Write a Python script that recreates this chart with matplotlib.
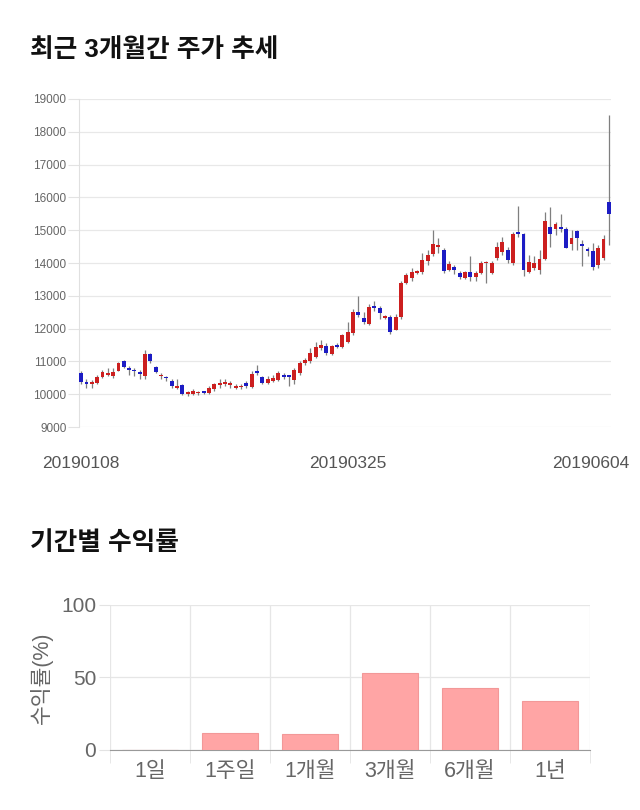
import matplotlib
matplotlib.use('Agg')
import matplotlib.pyplot as plt
import numpy as np
from matplotlib.transforms import ScaledTranslation

plt.rcParams['font.family'] = ['Liberation Sans', 'Noto Sans CJK KR']

# daily candles 2019-01-08 .. 2019-06-04 (open, high, low, close)
opens = [10650, 10370, 10300, 10340, 10520, 10580, 10550, 10720, 11000, 10800,
         10720, 10650, 10550, 11220, 10830, 10550, 10500, 10400, 10200, 10280,
         10020, 10000, 10030, 10070, 10050, 10150, 10280, 10320, 10290, 10200,
         10210, 10340, 10220, 10700, 10520, 10340, 10400, 10430, 10580, 10560,
         10430, 10650, 10950, 11000, 11130, 11400, 11470, 11220, 11500, 11440,
         11590, 11870, 12500, 12320, 12140, 12690, 12620, 12330, 12350, 11960,
         12350, 13400, 13540, 13700, 13720, 14060, 14270, 14490, 14400, 13790,
         13880, 13700, 13540, 13720, 13570, 13700, 13990, 13700, 14150, 14330,
         14400, 14000, 14940, 14880, 13720, 13850, 13790, 14120, 15090, 15030,
         15090, 15030, 14580, 14970, 14580, 14430, 14370, 13940, 14150, 15860]
highs = [10700, 10450, 10420, 10600, 10750, 10800, 10800, 10980, 11050, 10850,
         10800, 10750, 11350, 11250, 10850, 10650, 10550, 10450, 10450, 10300,
         10100, 10150, 10100, 10100, 10250, 10350, 10450, 10450, 10400, 10300,
         10300, 10400, 10700, 10900, 10560, 10550, 10580, 10700, 10650, 10600,
         10800, 11000, 11100, 11400, 11600, 11650, 11550, 11500, 11550, 11850,
         12200, 12600, 13000, 12500, 12750, 12850, 12700, 12400, 12400, 12450,
         13450, 13700, 13850, 13800, 14300, 14400, 15000, 14750, 14450, 14050,
         13950, 13750, 13750, 14200, 13750, 14050, 14050, 14050, 14650, 14800,
         14500, 14950, 15750, 14900, 14250, 14200, 14400, 15550, 15700, 15250,
         15500, 15100, 15000, 15000, 14700, 14500, 14600, 14550, 14850, 18500]
lows = [10300, 10200, 10200, 10300, 10480, 10550, 10500, 10700, 10800, 10600,
        10550, 10450, 10450, 10950, 10650, 10450, 10400, 10200, 10150, 9980,
        9950, 9980, 9990, 10000, 10000, 10100, 10200, 10250, 10200, 10150,
        10150, 10200, 10200, 10600, 10300, 10300, 10380, 10400, 10450, 10250,
        10300, 10600, 10900, 10950, 11100, 11350, 11200, 11200, 11400, 11400,
        11550, 11800, 12350, 12150, 12100, 12550, 12300, 12300, 11850, 11950,
        12300, 13350, 13450, 13650, 13650, 13950, 14200, 14300, 13700, 13750,
        13650, 13500, 13500, 13450, 13450, 13650, 13400, 13650, 14100, 14250,
        14000, 13950, 14800, 13600, 13700, 13800, 13650, 14100, 14500, 14850,
        14950, 14450, 14400, 14400, 13900, 14200, 13800, 13850, 14100, 14550]
closes = [10370, 10300, 10370, 10520, 10680, 10650, 10680, 10950, 10830, 10750,
          10700, 10630, 11220, 11000, 10680, 10600, 10480, 10250, 10230, 10000,
          10070, 10100, 10070, 10040, 10200, 10300, 10340, 10330, 10340, 10240,
          10240, 10250, 10620, 10650, 10340, 10470, 10500, 10650, 10520, 10530,
          10740, 10950, 11040, 11250, 11440, 11500, 11250, 11470, 11450, 11800,
          11900, 12500, 12420, 12200, 12650, 12620, 12470, 12370, 11900, 12350,
          13400, 13630, 13720, 13730, 14100, 14240, 14580, 14550, 13760, 13970,
          13790, 13570, 13720, 13570, 13700, 14000, 14010, 14000, 14490, 14640,
          14090, 14880, 14880, 13790, 14030, 14000, 14120, 15280, 14880, 15200,
          15030, 14460, 14760, 14760, 14520, 14370, 13880, 14460, 14730, 15490]
date_labels = ['20190108', '20190325', '20190604']
date_idx = [0, 50, 99]

# period returns
periods = ['1일', '1주일', '1개월', '3개월', '6개월', '1년']
returns = [0.0, 11.6, 10.7, 53.0, 42.9, 33.8]

fig = plt.figure(figsize=(6.4, 8.1), dpi=100)

fig.text(0.047, 0.938, '최근 3개월간 주가 추세', fontsize=18.5, fontweight='bold',
         color='#111111', va='center')
fig.text(0.047, 0.330, '기간별 수익률', fontsize=18.5, fontweight='bold',
         color='#111111', va='center')

# candlestick chart
ax = fig.add_axes([0.1234, 0.4728, 0.8313, 0.405])
o = np.array(opens)
c = np.array(closes)
h = np.array(highs)
l = np.array(lows)
x = np.arange(len(o))
up = c >= o
colors = np.where(up, '#cc1f1f', '#1c1cc4')
body_lo = np.minimum(o, c)
body_h = np.maximum(np.abs(c - o), 45)
ax.vlines(x, l, h, color='#7f7f7f', linewidth=0.9, zorder=2)
ax.bar(x, body_h, bottom=body_lo, width=0.72, color=colors, zorder=3)

ax.set_xlim(-0.4, len(o) - 0.6)
ax.set_ylim(9000, 19000)
ax.set_yticks(np.arange(9000, 19001, 1000))
ax.tick_params(axis='y', labelsize=8.5, labelcolor='#666666', length=8,
               color='#e3e3e3', pad=1)
ax.grid(axis='y', color='#e8e8e8', linewidth=0.9)
ax.set_axisbelow(True)
for side in ['top', 'right', 'bottom']:
    ax.spines[side].set_visible(False)
ax.spines['left'].set_color('#e0e0e0')
ax.set_xticks(date_idx)
ax.set_xticklabels(date_labels)
ax.tick_params(axis='x', length=0, labelsize=12.5, labelcolor='#555555', pad=21)
lab = ax.get_xticklabels()[-1]
lab.set_horizontalalignment('right')
lab.set_transform(lab.get_transform() + ScaledTranslation(0.2, 0, fig.dpi_scale_trans))

# returns bar chart
bx = fig.add_axes([0.1719, 0.0741, 0.75, 0.179])
xb = np.arange(len(periods))
bx.bar(xb, returns, width=0.7, color='#ffa5a5', edgecolor='#f29898',
       linewidth=0.8, zorder=3)
bx.set_xlim(-0.5, len(periods) - 0.5)
bx.set_ylim(0, 100)
bx.set_yticks([0, 50, 100])
bx.set_xticks(xb)
bx.set_xticklabels(periods)
bx.set_xticks(np.arange(-0.5, len(periods)), minor=True)
bx.tick_params(axis='x', which='major', length=0, labelsize=15.5,
               labelcolor='#666666', pad=8)
bx.tick_params(axis='x', which='minor', length=9, color='#e3e3e3')
bx.tick_params(axis='y', labelsize=15, labelcolor='#666666', length=8,
               color='#e3e3e3', pad=2)
bx.grid(axis='y', color='#e6e6e6', linewidth=0.9)
bx.grid(axis='x', which='minor', color='#e6e6e6', linewidth=0.9)
bx.set_axisbelow(True)
for side in ['top', 'right', 'left']:
    bx.spines[side].set_visible(False)
bx.spines['bottom'].set_color('#999999')
bx.set_ylabel('수익률(%)', fontsize=15.5, color='#666666', labelpad=6)

fig.savefig('out.png', dpi=100)
plt.close(fig)
